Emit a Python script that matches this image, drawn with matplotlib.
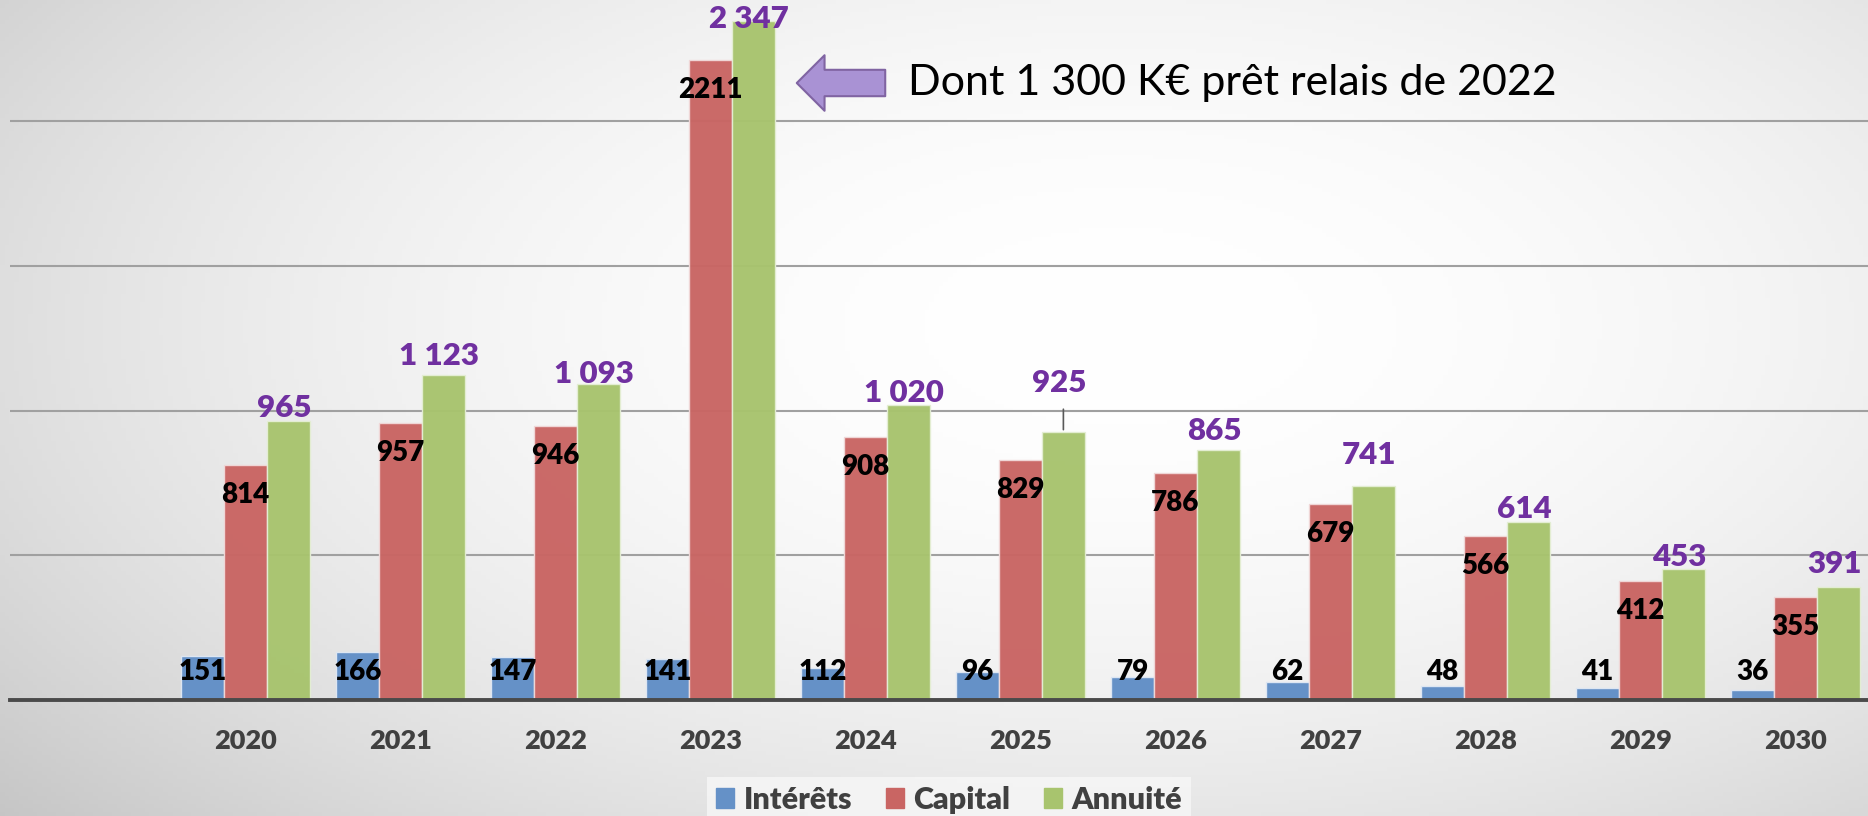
import numpy as np
import matplotlib.pyplot as plt
from matplotlib.patches import Patch, FancyArrowPatch

# Données (K€)
annees = ['2020', '2021', '2022', '2023', '2024', '2025', '2026', '2027', '2028', '2029', '2030']
interets = [151, 166, 147, 141, 112, 96, 79, 62, 48, 41, 36]
capital = [814, 957, 946, 2211, 908, 829, 786, 679, 566, 412, 355]
annuite = [965, 1123, 1093, 2347, 1020, 925, 865, 741, 614, 453, 391]
annuite_txt = ['965', '1 123', '1 093', '2 347', '1 020', '925', '865', '741', '614', '453', '391']

# décalage vertical des étiquettes d'annuité (pixels au-dessus de la barre)
annuite_dy = [13, 19, 10, 2, 12, 49, 19, 31, 13, 12, 23]

c_int = '#6591c7'
c_cap = '#c96563'
c_ann = '#a8c46e'
violet = '#7030a0'
gris = '#404040'

plt.rcParams['font.family'] = ['Lato', 'DejaVu Sans']

W, H = 1868, 816
fig = plt.figure(figsize=(W / 100, H / 100), dpi=100)

# fond en dégradé radial
bg = fig.add_axes([0, 0, 1, 1])
yy, xx = np.mgrid[0:1:200j, 0:1:400j]
d2 = ((xx - 0.6) / 0.65) ** 2 + ((yy - 0.4) / 0.75) ** 2
val = np.clip(1 - 0.15 * d2, 0.75, 1)
bg.imshow(np.dstack([val, val, val]), extent=[0, 1, 1, 0], aspect='auto')
bg.set_xlim(0, 1)
bg.set_ylim(1, 0)
bg.axis('off')

ax = fig.add_axes([10 / W, 116 / H, 1 - 10 / W, 700 / H])
ax.patch.set_alpha(0)

x = np.arange(len(annees))
w = 0.277
ax.bar(x - w, interets, w, color=c_int, edgecolor='#dde6f2', linewidth=1, zorder=2)
ax.bar(x, capital, w, color=c_cap, edgecolor='#f0d8d8', linewidth=1, zorder=2, alpha=0.97)
ax.bar(x + w, annuite, w, color=c_ann, edgecolor='#e4eed4', linewidth=1, zorder=2, alpha=0.97)

ax.set_xlim(-1.519, 10.468)
ax.set_ylim(0, 2420)

for v in [500, 1000, 1500, 2000]:
    ax.axhline(v, color='#a0a0a0', lw=1.5, zorder=1)
ax.axhline(0, color='#4a4a4a', lw=2.8, zorder=3, clip_on=False)

for s in ax.spines.values():
    s.set_visible(False)
ax.set_yticks([])
ax.set_xticks(x)
ax.set_xticklabels(annees, fontsize=19.5, fontweight='heavy', color=gris)
ax.tick_params(axis='x', length=0, pad=21)

# étiquettes
for i in range(len(annees)):
    ax.text(x[i] - w, 97, str(interets[i]), ha='center', va='center',
            fontsize=20, fontweight='heavy', color='black', zorder=4)
    ax.annotate(str(capital[i]), (x[i], capital[i]), xytext=(0, -30 * 0.72),
                textcoords='offset points', ha='center', va='center',
                fontsize=20, fontweight='heavy', color='black', zorder=4)
    ax.annotate(annuite_txt[i], (x[i] + w, annuite[i]),
                xytext=(-3, annuite_dy[i] * 0.72), textcoords='offset points',
                ha='center', va='center', fontsize=22.5, fontweight='heavy',
                color=violet, zorder=4, annotation_clip=False)

# trait de rappel pour 925
i = annees.index('2025')
ax.annotate('', (x[i] + w, annuite[i]), xytext=(0, 26 * 0.72), textcoords='offset points',
            arrowprops=dict(arrowstyle='-', color='#595959', lw=1.2))

# flèche et commentaire
fleche = FancyArrowPatch((888, H - 83), (794, H - 83), transform=None,
                         arrowstyle='simple,head_length=20,head_width=40,tail_width=19',
                         mutation_scale=1, fc='#a992d4', ec='#8064a2', lw=1.5)
fig.add_artist(fleche)
fig.text(908 / W, 1 - 83 / H, 'Dont 1 300 K€ prêt relais de 2022', fontsize=31,
         color='black', ha='left', va='center')

handles = [Patch(color=c_int, label='Intérêts'),
           Patch(color=c_cap, label='Capital'),
           Patch(color=c_ann, label='Annuité')]
leg = fig.legend(handles=handles, loc='center', bbox_to_anchor=(0.508, 0.02), ncol=3,
                 frameon=True, fancybox=False, handlelength=0.6, handleheight=0.6,
                 handletextpad=0.3, columnspacing=1.1, borderpad=0.3,
                 prop={'size': 22, 'weight': 'heavy'})
leg.get_frame().set_facecolor('#f7f7f7')
leg.get_frame().set_edgecolor('none')
for t in leg.get_texts():
    t.set_color(gris)

fig.savefig('out.png', dpi=100)
